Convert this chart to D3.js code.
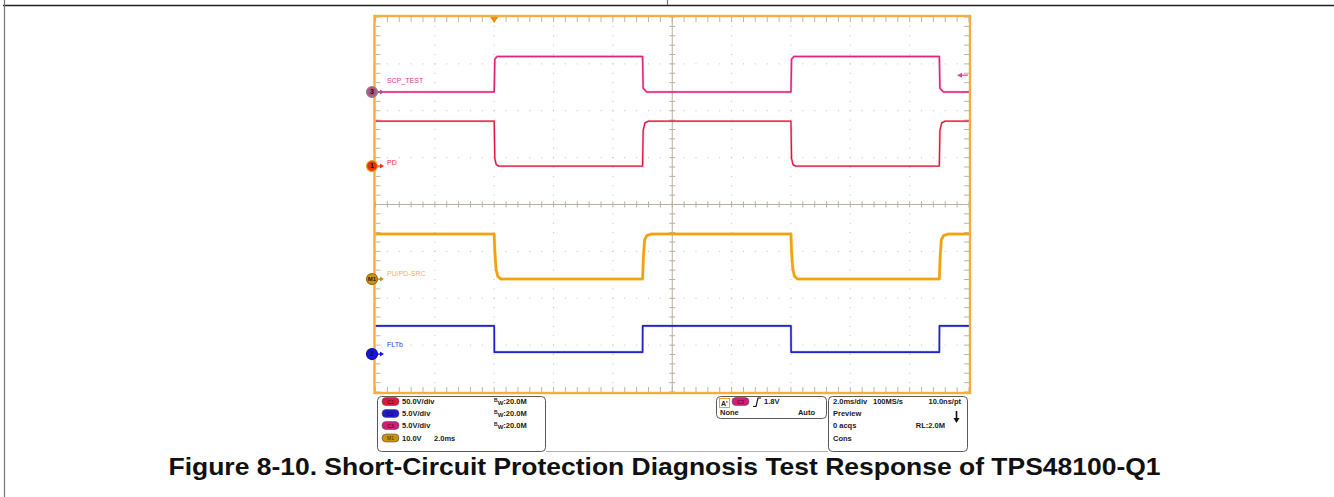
<!DOCTYPE html>
<html><head><meta charset="utf-8">
<script src="https://cdn.jsdelivr.net/npm/d3@7"></script>
<style>body{margin:0;background:#fff}svg{display:block}</style>
</head><body>
<svg id="c" width="1334" height="497"></svg>
<script>
// ---------------- data ----------------
const channelNames = ["SCP_TEST", "PD", "PU/PD-SRC", "FLTb"];
const channelIds = ["3", "1", "M1", "2"];
const voltsPerDiv = [5, 50, 10, 5];          // C3, C1, M1, C2
const groundDiv = [2.4, 0.82, -1.59, -3.19];  // ground marker position (div from centre)
const timePerDivMs = 2.0;
// waveforms: [time ms, volts]
const scpTest = [[0,0],[4,0],[4.02,3.5],[4.1,3.8],[9,3.8],[9.02,0.4],[9.14,0],[14,0],[14.02,3.5],[14.1,3.8],[19,3.8],[19.02,0.4],[19.14,0],[20,0]];
const pd = [[0,48],[4,48],[4.02,8],[4.07,1.5],[4.16,0],[9,0],[9.02,38],[9.08,46],[9.2,48],[14,48],[14.02,8],[14.07,1.5],[14.16,0],[19,0],[19.02,38],[19.08,46],[19.2,48],[20,48]];
const puPdSrc = [[0,9.6],[4,9.6],[4.02,6],[4.06,2.2],[4.12,0.6],[4.22,0],[9,0],[9.03,5],[9.07,8.4],[9.15,9.3],[9.3,9.6],[14,9.6],[14.02,6],[14.06,2.2],[14.12,0.6],[14.22,0],[19,0],[19.03,5],[19.07,8.4],[19.15,9.3],[19.3,9.6],[20,9.6]];
const fltb = [[0,3],[4,3],[4.005,0.2],[9,0.2],[9.005,3],[14,3],[14.005,0.2],[19,0.2],[19.005,3],[20,3]];
const traces = [scpTest, pd, puPdSrc, fltb];
const triggerTimeMs = 4;
const triggerLevelV = 1.8;
const captionText = "Figure 8-10. Short-Circuit Protection Diagnosis Test Response of TPS48100-Q1";
const panelRowsLeft = [["C1","50.0V/div",":20.0M"],["C2","5.0V/div",":20.0M"],["C3","5.0V/div",":20.0M"],["M1","10.0V",""]];
const panelM1Time = "2.0ms";
const acqRows = [["2.0ms/div","100MS/s","10.0ns/pt"],["Preview","",""],["0 acqs","","RL:2.0M"],["Cons","",""]];
const trigRows = [["None","Auto"]];

// ---------------- styles ----------------
const traceColors = ["#e6207c", "#e3143c", "#f2a20c", "#2222cc"];
const traceWidths = [1.5, 1.3, 2.6, 1.6];
const labelColors = ["#e8388e", "#e83050", "#f4b648", "#3a3ae0"];
const markerFill = ["#b8528a", "#e8340e", "#c8921c", "#1515e6"];
const markerStroke = ["#8c8c8c", "#f6a21e", "#a07010", "#1010b0"];
const labelDy = [-9, -1, -3, -7];
const badgeColors = {C1:"#d81a3c", C2:"#1c1cd0", C3:"#d01e78", M1:"#c8940e"};

const svg = d3.select("#c");
const L = 375.5, R = 969, T = 17, B = 392;
const x = d3.scaleLinear().domain([0, 10 * timePerDivMs]).range([L, R]);
const yDiv = d3.scaleLinear().domain([-4, 4]).range([B, T]);
const xDiv = d3.scaleLinear().domain([0, 10]).range([L, R]);

// page lines
svg.append("line").attr("x1",3).attr("x2",1334).attr("y1",5.5).attr("y2",5.5).attr("stroke","#222").attr("stroke-width",1.3);
svg.append("line").attr("x1",4.5).attr("x2",4.5).attr("y1",0).attr("y2",497).attr("stroke","#777").attr("stroke-width",1.2);
svg.append("line").attr("x1",667.5).attr("x2",667.5).attr("y1",0).attr("y2",5).attr("stroke","#777").attr("stroke-width",1.2);

const g = svg.append("g");
// dotted grid
const minorX = d3.range(0, 50.5, 1).map(d => d / 5);
const minorY = d3.range(0, 40.5, 1).map(d => d / 5 - 4);
for (let i = 1; i < 10; i++) {
  if (i === 5) continue;
  g.selectAll(null).data(minorY).enter().append("rect")
    .attr("x", xDiv(i) - 0.5).attr("y", d => yDiv(d) - 0.5).attr("width", 1).attr("height", 1).attr("fill", "#c0c0c0");
}
for (let j = -3; j <= 3; j++) {
  if (j === 0) continue;
  g.selectAll(null).data(minorX).enter().append("rect")
    .attr("x", d => xDiv(d) - 0.5).attr("y", yDiv(j) - 0.5).attr("width", 1).attr("height", 1).attr("fill", "#c0c0c0");
}
// centre cross
const axC = "#b8b0a0";
g.append("line").attr("x1", xDiv(5)).attr("x2", xDiv(5)).attr("y1", T).attr("y2", B).attr("stroke", axC).attr("stroke-width", 1);
g.append("line").attr("x1", L).attr("x2", R).attr("y1", yDiv(0)).attr("y2", yDiv(0)).attr("stroke", axC).attr("stroke-width", 1);
g.selectAll(null).data(minorY).enter().append("line")
  .attr("x1", xDiv(5) - 3).attr("x2", xDiv(5) + 3).attr("y1", d => yDiv(d)).attr("y2", d => yDiv(d)).attr("stroke", axC);
g.selectAll(null).data(minorX).enter().append("line")
  .attr("y1", yDiv(0) - 3).attr("y2", yDiv(0) + 3).attr("x1", d => xDiv(d)).attr("x2", d => xDiv(d)).attr("stroke", axC);
// frame ticks
const tkC = "#bdb7a8";
g.selectAll(null).data(minorX).enter().append("line")
  .attr("x1", d => xDiv(d)).attr("x2", d => xDiv(d)).attr("y1", T).attr("y2", T + 5).attr("stroke", tkC);
g.selectAll(null).data(minorX).enter().append("line")
  .attr("x1", d => xDiv(d)).attr("x2", d => xDiv(d)).attr("y1", B).attr("y2", B - 5).attr("stroke", tkC);
g.selectAll(null).data(minorY).enter().append("line")
  .attr("y1", d => yDiv(d)).attr("y2", d => yDiv(d)).attr("x1", L).attr("x2", L + 5).attr("stroke", tkC);
g.selectAll(null).data(minorY).enter().append("line")
  .attr("y1", d => yDiv(d)).attr("y2", d => yDiv(d)).attr("x1", R).attr("x2", R - 5).attr("stroke", tkC);

// traces
const line = d3.line();
traces.forEach((tr, i) => {
  const yv = v => yDiv(groundDiv[i] + v / voltsPerDiv[i]);
  const pts = tr.map(p => [x(p[0]), yv(p[1])]);
  g.append("path").attr("d", line(pts)).attr("fill", "none")
    .attr("stroke", traceColors[i]).attr("stroke-width", traceWidths[i] + 1.0).attr("stroke-opacity", 0.25)
    .attr("stroke-linejoin", "round");
  g.append("path").attr("d", line(pts)).attr("fill", "none")
    .attr("stroke", traceColors[i]).attr("stroke-width", traceWidths[i]).attr("stroke-linejoin", "round");
});

// frame
svg.append("rect").attr("x", L - 1).attr("y", T - 1).attr("width", R - L + 2).attr("height", B - T + 2)
  .attr("fill", "none").attr("stroke", "#f6ad3e").attr("stroke-width", 2.4);

// trigger position marker (top)
const tx = x(triggerTimeMs);
svg.append("path").attr("d", `M${tx - 4},${T} L${tx + 4},${T} L${tx},${T + 6} Z`).attr("fill", "#f28a00");
// trigger level arrow (right) on SCP channel
const tly = yDiv(groundDiv[0] + triggerLevelV / voltsPerDiv[0]);
svg.append("line").attr("x1", R - 1).attr("x2", R - 9).attr("y1", tly).attr("y2", tly).attr("stroke", "#ee3c92").attr("stroke-width", 1.2);
svg.append("path").attr("d", `M${R - 12},${tly} L${R - 7},${tly - 2.5} L${R - 7},${tly + 2.5} Z`).attr("fill", "#ee3c92");

// channel markers and labels
channelNames.forEach((name, i) => {
  const yy = yDiv(groundDiv[i]);
  svg.append("line").attr("x1", 376).attr("x2", 381).attr("y1", yy).attr("y2", yy).attr("stroke", markerFill[i]).attr("stroke-width", 1.2);
  svg.append("path").attr("d", `M${380},${yy - 2.5} L${384},${yy} L${380},${yy + 2.5} Z`).attr("fill", markerFill[i]);
  svg.append("circle").attr("cx", 372).attr("cy", yy).attr("r", 5.5).attr("fill", markerFill[i]).attr("stroke", markerStroke[i]).attr("stroke-width", 1.2);
  svg.append("text").attr("x", 372).attr("y", yy + 2.4).attr("text-anchor", "middle")
    .attr("font-family", "Liberation Sans, Arial, sans-serif").attr("font-size", channelIds[i].length > 1 ? 6 : 7).attr("font-weight", "bold")
    .attr("fill", i === 2 ? "#2a2000" : "#111").text(channelIds[i]);
  svg.append("text").attr("x", 387).attr("y", yy + labelDy[i]).attr("font-family", "Liberation Sans, Arial, sans-serif")
    .attr("font-size", 7).attr("fill", labelColors[i]).text(name);
});

// ---------------- bottom info panel ----------------
const font = "Liberation Sans, Arial, sans-serif";
const P = svg.append("g").attr("font-family", font).attr("font-weight", "bold").attr("font-size", 7.5).attr("fill", "#1a1a1a");
const boxStroke = "#5a5a5a";
P.append("rect").attr("x", 377.5).attr("y", 396.5).attr("width", 168).attr("height", 55).attr("rx", 4).attr("fill", "#fff").attr("stroke", boxStroke);
P.append("rect").attr("x", 716.5).attr("y", 396.5).attr("width", 110).attr("height", 22).attr("rx", 4).attr("fill", "#fff").attr("stroke", boxStroke);
P.append("rect").attr("x", 828.5).attr("y", 396.5).attr("width", 139).attr("height", 55).attr("rx", 4).attr("fill", "#fff").attr("stroke", boxStroke);
P.append("line").attr("x1", 546).attr("x2", 828).attr("y1", 451.5).attr("y2", 451.5).attr("stroke", "#b0b0b0");

function badge(px, py, id) {
  P.append("rect").attr("x", px).attr("y", py - 4).attr("width", 17).attr("height", 8).attr("rx", 4)
    .attr("fill", badgeColors[id]).attr("stroke", "#555").attr("stroke-width", 0.6);
  P.append("text").attr("x", px + 8.5).attr("y", py + 2).attr("text-anchor", "middle").attr("font-size", 5)
    .attr("fill", id === "M1" ? "#3a2a00" : "#400010").attr("font-weight", "normal").text(id);
}
const rowY = [404, 416, 428, 440.5];
panelRowsLeft.forEach((r, i) => {
  badge(382, rowY[i] - 2.5, r[0]);
  P.append("text").attr("x", 402).attr("y", rowY[i]).text(r[1]);
  if (r[2]) {
    const t = P.append("text").attr("x", 494).attr("y", rowY[i]);
    t.append("tspan").attr("font-size", 5).attr("dy", -2).text("B");
    t.append("tspan").attr("font-size", 6).attr("dy", 3).text("W");
    t.append("tspan").attr("dy", -1).text(r[2]);
  }
});
P.append("text").attr("x", 434).attr("y", rowY[3]).text(panelM1Time);

// trigger box
P.append("rect").attr("x", 719.5).attr("y", 398.5).attr("width", 10).attr("height", 9).attr("fill", "#fff").attr("stroke", "#f2a030");
P.append("text").attr("x", 721).attr("y", 406).attr("font-size", 7).text("A'");
badge(732, 401.5, "C3");
P.append("path").attr("d", "M753,406.5 L756,406.5 L758,398 L761,398").attr("fill", "none").attr("stroke", "#111").attr("stroke-width", 1.1);
P.append("text").attr("x", 764).attr("y", 404).text(triggerLevelV.toFixed(1) + "V");
P.append("text").attr("x", 720).attr("y", 415).text(trigRows[0][0]);
P.append("text").attr("x", 815).attr("y", 415).attr("text-anchor", "end").text(trigRows[0][1]);

// acquisition box
const acqY = [404, 416, 428, 440.5];
acqRows.forEach((r, i) => {
  if (r[0]) P.append("text").attr("x", 833).attr("y", acqY[i]).text(r[0]);
  if (r[1]) P.append("text").attr("x", 873).attr("y", acqY[i]).text(r[1]);
  if (r[2]) P.append("text").attr("x", i === 2 ? 945 : 961).attr("y", acqY[i]).attr("text-anchor", "end").text(r[2]);
});
P.append("line").attr("x1", 956.5).attr("x2", 956.5).attr("y1", 411).attr("y2", 419).attr("stroke", "#111").attr("stroke-width", 1.6);
P.append("path").attr("d", "M953.5,418 L959.5,418 L956.5,423 Z").attr("fill", "#111");

// caption
svg.append("text").attr("x", 664.5).attr("y", 475).attr("text-anchor", "middle")
  .attr("font-family", font).attr("font-weight", "bold").attr("font-size", 24).attr("fill", "#111")
  .attr("textLength", 992).attr("lengthAdjust", "spacingAndGlyphs").text(captionText);
</script>
</body></html>
